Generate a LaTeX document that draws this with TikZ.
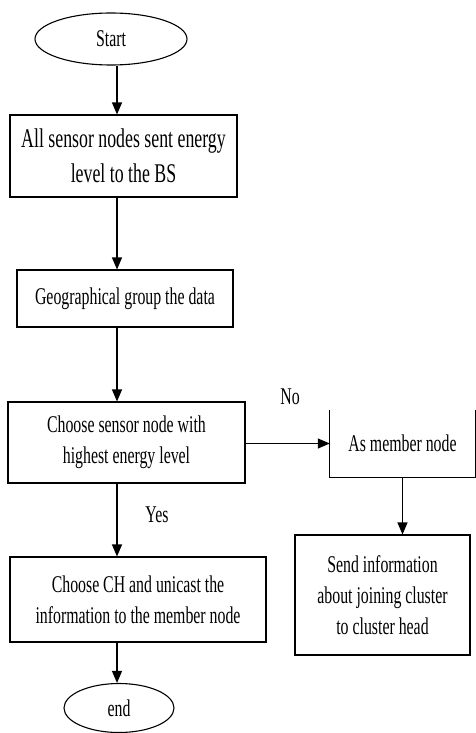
\documentclass[tikz,border=0pt]{standalone}
\usepackage{fontspec}
\setmainfont{Liberation Serif}[FakeStretch=0.66]
\usetikzlibrary{shapes.geometric,arrows.meta}
\tikzset{
  flowbox/.style={draw, rectangle, inner sep=0pt, align=center, line width=1.1pt},
  flowend/.style={draw, ellipse, inner sep=0pt, line width=1.1pt},
  flowarrow/.style={line width=1.2pt, -{Triangle[length=12pt,width=10pt]}},
  lbl/.style={inner sep=0pt}
}
\begin{document}
\begin{tikzpicture}[x=1pt, y=-1pt, font=\fontsize{24}{31}\selectfont]
\useasboundingbox (0,0) rectangle (476,733);
\node[flowend, minimum width=152pt, minimum height=52pt] (start) at (111,39) {Start};
\node[flowbox, minimum width=227pt, minimum height=82pt, font=\fontsize{27}{35}\selectfont] (b1) at (123.5,156) {All sensor nodes sent energy\\level to the BS};
\node[flowbox, minimum width=216pt, minimum height=57pt] (b2) at (125,298.5) {Geographical group the data};
\node[flowbox, minimum width=237pt, minimum height=81pt] (b3) at (126.5,442.5) {Choose sensor node with\\highest energy level};
\node[rectangle, inner sep=0pt, minimum width=145pt, minimum height=67pt] (b4) at (402.5,443.5) {As member node};
\draw[line width=1.1pt] (b4.north west) -- (b4.south west) -- (b4.south east) -- (b4.north east);
\node[flowbox, minimum width=175pt, minimum height=120pt] (b5) at (382.5,595) {Send information\\about joining cluster\\to cluster head};
\node[flowbox, minimum width=256pt, minimum height=85pt] (b6) at (138,599.5) {Choose CH and unicast the\\information to the member node};
\node[flowend, minimum width=110pt, minimum height=49pt] (end) at (119,708) {end};
\coordinate (col) at (117,0);
\node[lbl] (no) at (290,397) {No};
\node[lbl] (yes) at (157,515) {Yes};
\draw[flowarrow] (start.south -| col) -- (b1.north -| col);
\draw[flowarrow] (b1.south -| col) -- (b2.north -| col);
\draw[flowarrow] (b2.south -| col) -- (b3.north -| col);
\draw[flowarrow] (b3.south -| col) -- (b6.north -| col);
\draw[flowarrow] (b6.south -| col) -- (end.north -| col);
\draw[flowarrow] (b3.east |- b4.west) -- (b4.west);
\draw[flowarrow] (b4.south) -- (b4.south |- b5.north);
\end{tikzpicture}
\end{document}
